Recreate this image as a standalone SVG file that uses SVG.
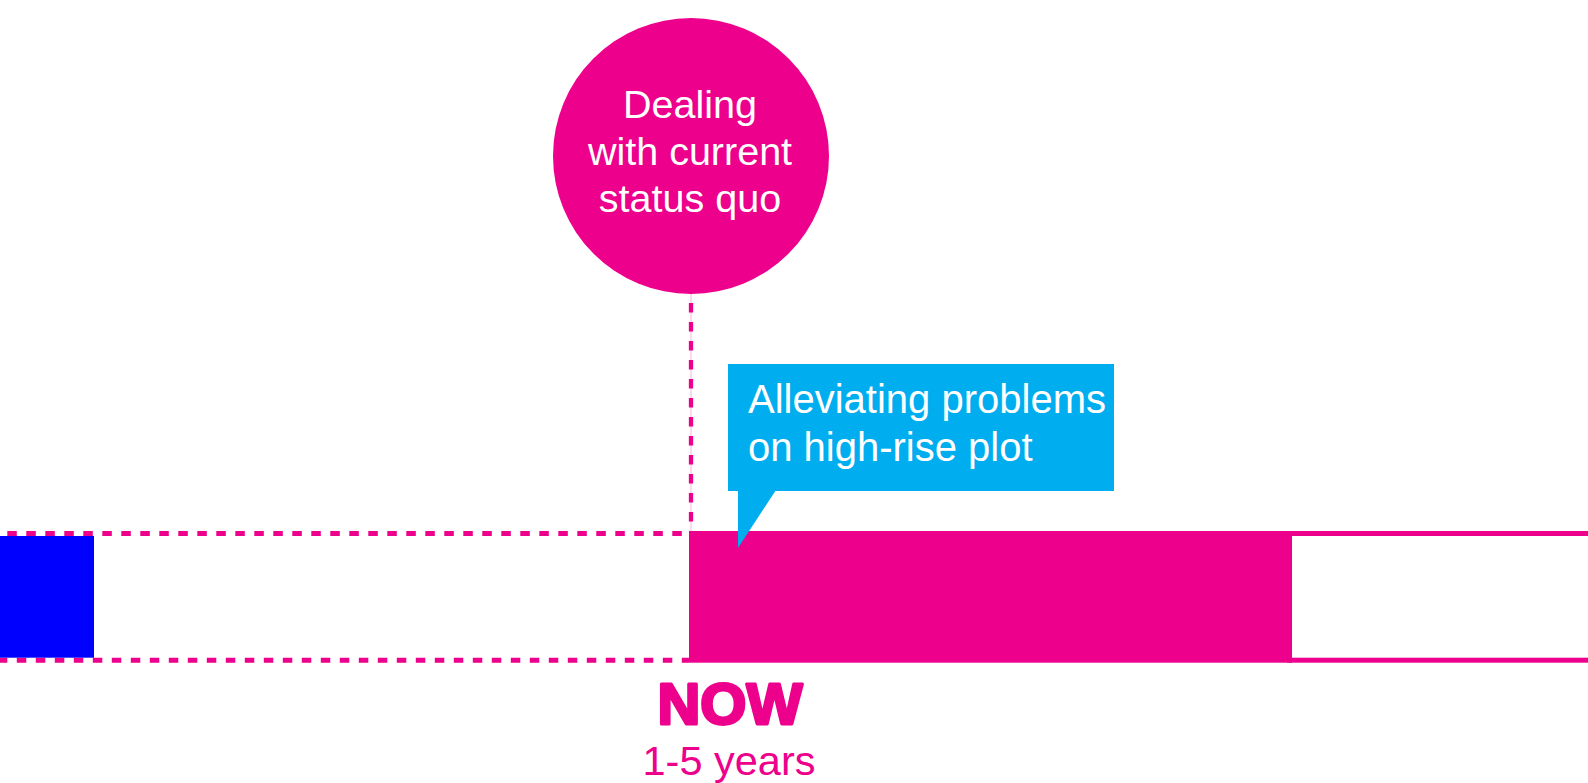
<svg xmlns="http://www.w3.org/2000/svg" width="1588" height="783" viewBox="0 0 1588 783">
<style>
.pk{fill:#EC008C}
.dash{stroke:#EC008C;fill:none;stroke-dasharray:9.5 9.5}
.t{font-family:"Liberation Sans",Arial,sans-serif;text-anchor:middle}
.w{fill:#FFFFFF}
</style>
<rect width="1588" height="783" fill="#FFFFFF"/>
<g id="connectors">
<line x1="691" y1="294" x2="691" y2="531" stroke="#EC008C" stroke-width="1" stroke-opacity="0.3"/>
<line class="dash" x1="691" y1="303" x2="691" y2="531" stroke-width="4.3" stroke-dashoffset="0"/>
<line class="dash" x1="0" y1="533.5" x2="686" y2="533.5" stroke-width="5" stroke-dashoffset="11.7"/>
<line class="dash" x1="0" y1="660.2" x2="689" y2="660.2" stroke-width="5" stroke-dashoffset="2.2"/>
</g>
<g id="past-bar">
<rect x="0" y="536" width="94" height="121.7" fill="#0000FF"/>
</g>
<g id="now-bar">
<rect class="pk" x="689" y="531" width="603" height="131.7"/>
</g>
<g id="future-bar">
<rect x="1289.5" y="533.5" width="320" height="126.7" fill="#FFFFFF" stroke="#EC008C" stroke-width="5"/>
</g>
<g id="circle-node">
<circle class="pk" cx="691" cy="156" r="138"/>
<text class="t w" font-size="39.5"><tspan x="690" y="118">Dealing</tspan><tspan x="690" y="165">with current</tspan><tspan x="690" y="212">status quo</tspan></text>
</g>
<g id="callout-node">
<rect x="728" y="364" width="386" height="127" fill="#00AEEF"/>
<polygon points="738,490 776,490 738,548" fill="#00AEEF"/>
<text font-family="'Liberation Sans',Arial,sans-serif" font-size="40" class="w"><tspan x="748" y="413">Alleviating problems</tspan><tspan x="748" y="461">on high-rise plot</tspan></text>
</g>
<g id="now-label">
<text class="t pk" x="730" y="723.5" font-size="58" font-weight="bold" stroke="#EC008C" stroke-width="3" stroke-linejoin="round" textLength="145" lengthAdjust="spacingAndGlyphs">NOW</text>
<text class="t pk" x="729" y="775" font-size="41.5">1-5 years</text>
</g>
</svg>
